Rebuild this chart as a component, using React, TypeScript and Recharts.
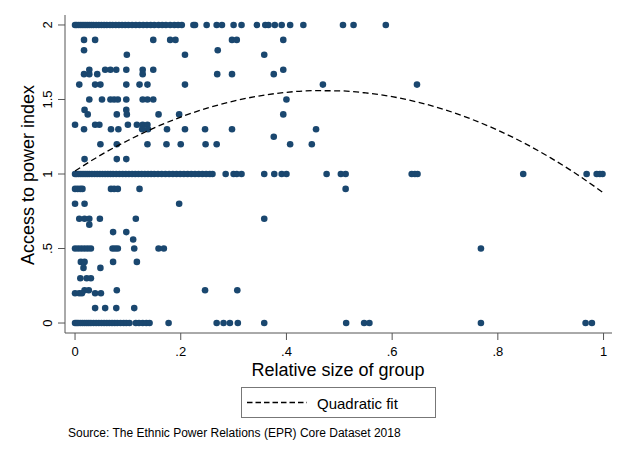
import React from "react";
import { ScatterChart, Scatter, XAxis, YAxis } from "recharts";

// x positions of groups sitting on the common index values
const xAtTwo = [
  0, 0.003, 0.007, 0.011, 0.015, 0.019, 0.023, 0.027, 0.031, 0.035, 0.04, 0.045, 0.05, 0.055,
  0.06, 0.066, 0.071, 0.077, 0.083, 0.089, 0.095, 0.101, 0.108, 0.115, 0.122, 0.129, 0.136,
  0.143, 0.15, 0.158, 0.165, 0.172, 0.18, 0.188, 0.195, 0.202, 0.224, 0.227, 0.249, 0.268,
  0.278, 0.3, 0.315, 0.344, 0.36, 0.366, 0.378, 0.391, 0.407, 0.432, 0.507, 0.527, 0.588,
];
const xAtOne = [
  0, 0.003, 0.007, 0.011, 0.015, 0.019, 0.023, 0.027, 0.032, 0.037, 0.042, 0.047, 0.052, 0.057,
  0.062, 0.067, 0.072, 0.078, 0.084, 0.09, 0.096, 0.102, 0.108, 0.114, 0.12, 0.126, 0.132,
  0.138, 0.144, 0.15, 0.157, 0.164, 0.171, 0.178, 0.185, 0.192, 0.199, 0.206, 0.213, 0.22,
  0.227, 0.234, 0.241, 0.248, 0.255, 0.26, 0.285, 0.3, 0.306, 0.315, 0.358, 0.377, 0.391, 0.4,
  0.476, 0.503, 0.512, 0.637, 0.643, 0.648, 0.848, 0.968, 0.987, 0.993, 0.998,
];
const xAtZero = [
  0, 0.003, 0.006, 0.01, 0.014, 0.018, 0.022, 0.026, 0.03, 0.035, 0.04, 0.045, 0.05, 0.055,
  0.06, 0.065, 0.07, 0.075, 0.08, 0.086, 0.092, 0.097, 0.103, 0.115, 0.121, 0.128, 0.135,
  0.141, 0.177, 0.268, 0.281, 0.293, 0.308, 0.358, 0.513, 0.547, 0.557, 0.768, 0.966, 0.978,
];
const xAtHalf = [0, 0.006, 0.012, 0.018, 0.024, 0.03, 0.071, 0.076, 0.081, 0.112, 0.158, 0.168, 0.768];
const xAtNine = [0, 0.005, 0.01, 0.014, 0.068, 0.074, 0.081, 0.122, 0.512];

// everything else, [size, index]
const otherPoints: [number, number][] = [
  [0.017, 1.9], [0.038, 1.9], [0.148, 1.9], [0.18, 1.9], [0.19, 1.9], [0.297, 1.9], [0.306, 1.9], [0.394, 1.9],
  [0.017, 1.83], [0.27, 1.83],
  [0.098, 1.8], [0.208, 1.8], [0.358, 1.8],
  [0.027, 1.7], [0.057, 1.7], [0.067, 1.7], [0.078, 1.7], [0.097, 1.7], [0.128, 1.7], [0.148, 1.7], [0.394, 1.7],
  [0.017, 1.67], [0.027, 1.67], [0.042, 1.67], [0.128, 1.67], [0.269, 1.67], [0.297, 1.67], [0.376, 1.67],
  [0.008, 1.6], [0.038, 1.6], [0.048, 1.6], [0.097, 1.6], [0.122, 1.6], [0.137, 1.6], [0.208, 1.6], [0.469, 1.6], [0.647, 1.6],
  [0.027, 1.5], [0.051, 1.5], [0.067, 1.5], [0.074, 1.5], [0.081, 1.5], [0.097, 1.5], [0.128, 1.5], [0.137, 1.5], [0.148, 1.5], [0.4, 1.5],
  [0.018, 1.43], [0.097, 1.43],
  [0.024, 1.4], [0.079, 1.4], [0.098, 1.4], [0.158, 1.4], [0.197, 1.4], [0.394, 1.4],
  [0, 1.33], [0.038, 1.33], [0.046, 1.33], [0.1, 1.33], [0.117, 1.33], [0.128, 1.33], [0.137, 1.33],
  [0.017, 1.3], [0.068, 1.3], [0.082, 1.3], [0.127, 1.3], [0.138, 1.3], [0.174, 1.3], [0.208, 1.3], [0.246, 1.3], [0.297, 1.3], [0.456, 1.3],
  [0.376, 1.25],
  [0.048, 1.2], [0.079, 1.2], [0.137, 1.2], [0.173, 1.2], [0.2, 1.2], [0.247, 1.2], [0.268, 1.2], [0.407, 1.2], [0.448, 1.2],
  [0.018, 1.1], [0.079, 1.1], [0.097, 1.1],
  [0, 0.8], [0.018, 0.8], [0.197, 0.8],
  [0.008, 0.7], [0.018, 0.7], [0.027, 0.7], [0.047, 0.7], [0.115, 0.7], [0.358, 0.7],
  [0.027, 0.66],
  [0.072, 0.61], [0.097, 0.61],
  [0.11, 0.56],
  [0.011, 0.41], [0.018, 0.41], [0.072, 0.41], [0.117, 0.41],
  [0.016, 0.37], [0.048, 0.37],
  [0.01, 0.3], [0.022, 0.3], [0.03, 0.3],
  [0.018, 0.22], [0.026, 0.22], [0.079, 0.22], [0.246, 0.22], [0.307, 0.22],
  [0, 0.2], [0.008, 0.2], [0.013, 0.2], [0.038, 0.2], [0.049, 0.2],
  [0.038, 0.1], [0.057, 0.1], [0.078, 0.1], [0.112, 0.1],
];

// quadratic fit
const fitX = [0, 0.05, 0.1, 0.15, 0.2, 0.25, 0.3, 0.35, 0.4, 0.45, 0.5, 0.55, 0.6, 0.65, 0.7, 0.75, 0.8, 0.85, 0.9, 0.95, 1];
const fitY = [1.02, 1.13, 1.225, 1.31, 1.382, 1.442, 1.489, 1.525, 1.548, 1.559, 1.558, 1.544, 1.519, 1.481, 1.431, 1.368, 1.294, 1.207, 1.108, 0.997, 0.873];

const xTicks = [0, 0.2, 0.4, 0.6, 0.8, 1];
const yTicks = [0, 0.5, 1, 1.5, 2];

const navy = "#1a476f";
const axisGrey = "#555";
const font = "'Liberation Sans', Arial, sans-serif";

const row = (xs: number[], y: number) => xs.map(x => ({ x, y }));
const points = [
  ...row(xAtTwo, 2),
  ...row(xAtOne, 1),
  ...row(xAtZero, 0),
  ...row(xAtHalf, 0.5),
  ...row(xAtNine, 0.9),
  ...otherPoints.map(([x, y]) => ({ x, y })),
];
const fit = fitX.map((x, i) => ({ x, y: fitY[i] }));

const stataNum = (v: number) => (v === 0 || v >= 1 ? String(v) : String(v).replace(/^0/, ""));

const Dot = (p: any) => <circle cx={p.cx} cy={p.cy} r={3.3} fill={navy} />;

const YTick = ({ x, y, payload }: any) => (
  <text
    x={x}
    y={y}
    transform={`rotate(-90 ${x} ${y})`}
    textAnchor="middle"
    fontSize={13}
    fontFamily={font}
    fill="#000"
  >
    {stataNum(payload.value)}
  </text>
);

export default function App() {
  return (
    <div style={{ position: "absolute", left: 0, top: 0, width: 630, height: 458, background: "#fff" }}>
      <ScatterChart width={630} height={458} margin={{ top: 15, right: 18, bottom: 95, left: 20 }}>
        <XAxis
          type="number"
          dataKey="x"
          domain={[-0.019, 1.016]}
          ticks={xTicks}
          tickFormatter={stataNum}
          height={30}
          tickSize={7}
          tickMargin={7}
          stroke={axisGrey}
          tick={{ fill: "#000", fontSize: 13, fontFamily: font }}
          allowDataOverflow
        />
        <YAxis
          type="number"
          dataKey="y"
          domain={[-0.067, 2.067]}
          ticks={yTicks}
          width={45}
          tickSize={7}
          tickMargin={6}
          stroke={axisGrey}
          tick={<YTick />}
          allowDataOverflow
        />
        <Scatter data={points} shape={<Dot />} isAnimationActive={false} />
        <Scatter
          data={fit}
          shape={() => <g />}
          line={{ stroke: "#000", strokeWidth: 1.3, strokeDasharray: "6 3.5" }}
          lineJointType="monotoneX"
          isAnimationActive={false}
        />
      </ScatterChart>

      <svg width={630} height={458} style={{ position: "absolute", left: 0, top: 0, pointerEvents: "none" }}>
        <text x={34} y={175} transform="rotate(-90 34 175)" textAnchor="middle" fontSize={18} fontFamily={font} fill="#000">
          Access to power index
        </text>
        <text x={338} y={376} textAnchor="middle" fontSize={18} fontFamily={font} fill="#000">
          Relative size of group
        </text>
        <rect x={241.5} y={387.5} width={194} height={30} fill="#fff" stroke="#777" strokeWidth={1} />
        <line x1={247} y1={402.5} x2={307} y2={402.5} stroke="#000" strokeWidth={1.3} strokeDasharray="5.5 3" />
        <text x={317} y={409} fontSize={15} fontFamily={font} fill="#000">
          Quadratic fit
        </text>
        <text x={68} y={436.5} fontSize={12} fontFamily={font} fill="#000">
          Source: The Ethnic Power Relations (EPR) Core Dataset 2018
        </text>
      </svg>
    </div>
  );
}
